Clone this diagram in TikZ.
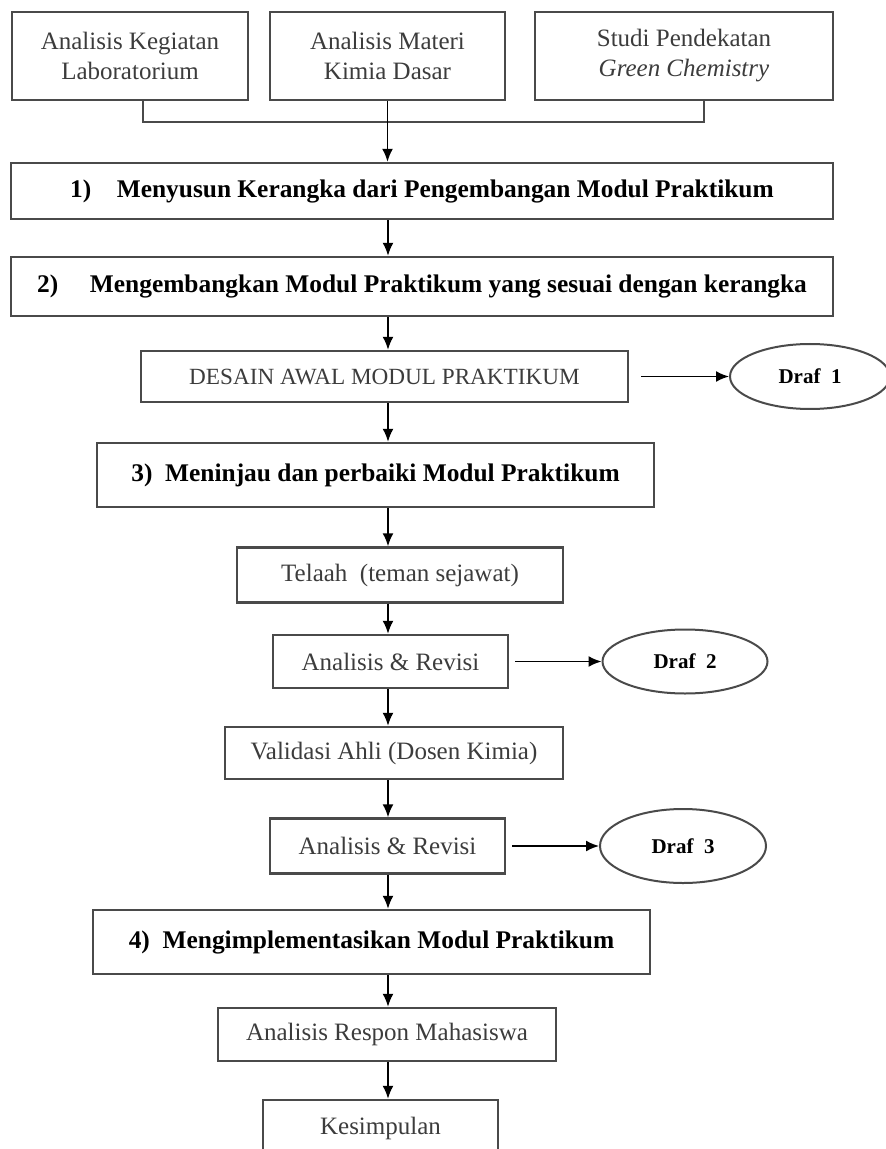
\documentclass[tikz,border=0pt]{standalone}
\usepackage{fontspec}
\setmainfont{Liberation Serif}
\usetikzlibrary{arrows.meta, shapes.geometric}
\definecolor{boxgray}{HTML}{4A4A4A}
\definecolor{txtgray}{HTML}{3C3C3C}
\begin{document}
\begin{tikzpicture}[x = 0.5pt, y = -0.5pt,
    box/.style = {draw = boxgray, line width = 1.2pt, align = center, inner sep = 0pt,
        text = txtgray, font = \fontsize{12.5}{15}\selectfont},
    stepbox/.style = {box, text = black, font = \fontsize{12.7}{15}\selectfont\bfseries},
    drafnode/.style = {draw = boxgray, line width = 1pt, ellipse, inner sep = 0pt,
        text = black, font = \fontsize{10.5}{12}\selectfont\bfseries},
    flow/.style = {draw = black, line width = 0.9pt, -{Latex[length = 6.5pt, width = 5.5pt]}},
    joint/.style = {draw = boxgray, line width = 1pt}]
        \useasboundingbox (0, 0) rectangle (886, 1149);
        % kajian awal
        \node [box, minimum width = 118pt, minimum height = 44pt] (kegiatan) at (130, 56)
            {Analisis Kegiatan\\Laboratorium};
        \node [box, minimum width = 117.5pt, minimum height = 44pt] (materi) at (387.5, 56)
            {Analisis Materi\\Kimia Dasar};
        \node [box, minimum width = 149pt, minimum height = 44pt] (pendekatan) at (684, 56)
            {Studi Pendekatan\\\textit{Green Chemistry}};
        \coordinate (gabungL) at (143, 122);
        \coordinate (gabungR) at (704, 122);
        \coordinate (spine) at (388, 0);
        % langkah pengembangan
        \node [stepbox, minimum width = 411pt, minimum height = 28pt] (langkah1) at (422, 191)
            {1)\quad Menyusun Kerangka dari Pengembangan Modul Praktikum};
        \node [stepbox, minimum width = 411pt, minimum height = 29.5pt] (langkah2) at (422, 286.5)
            {2)\quad\ Mengembangkan Modul Praktikum yang sesuai dengan kerangka};
        \node [box, minimum width = 243.5pt, minimum height = 25.5pt,
            font = \fontsize{11.6}{13}\selectfont] (desain) at (384.5, 376.5)
            {DESAIN AWAL MODUL PRAKTIKUM};
        \node [drafnode, minimum width = 80pt, minimum height = 32.5pt] (draf1) at (810, 376.5)
            {Draf\ \ 1};
        \node [stepbox, minimum width = 278.5pt, minimum height = 32pt] (langkah3) at (375.5, 475)
            {3)\ \ Meninjau dan perbaiki Modul Praktikum};
        \node [box, minimum width = 163pt, minimum height = 27.5pt] (telaah) at (400, 575)
            {Telaah\ \ (teman sejawat)};
        \node [box, minimum width = 117.5pt, minimum height = 26.5pt] (revisi1) at (390.5, 661.5)
            {Analisis \& Revisi};
        \node [drafnode, minimum width = 82.5pt, minimum height = 32pt] (draf2) at (685, 661.5)
            {Draf\ \ 2};
        \node [box, minimum width = 169pt, minimum height = 26pt] (validasi) at (394, 753)
            {Validasi Ahli (Dosen Kimia)};
        \node [box, minimum width = 117.5pt, minimum height = 27.5pt] (revisi2) at (387.5, 846)
            {Analisis \& Revisi};
        \node [drafnode, minimum width = 83pt, minimum height = 37pt] (draf3) at (683, 846)
            {Draf\ \ 3};
        \node [stepbox, minimum width = 278.5pt, minimum height = 32pt] (langkah4) at (371.5, 942)
            {4)\ \ Mengimplementasikan Modul Praktikum};
        \node [box, minimum width = 169pt, minimum height = 26.5pt] (respon) at (387, 1034.5)
            {Analisis Respon Mahasiswa};
        \node [box, minimum width = 117.5pt, minimum height = 28pt] (kesimpulan) at (380.5, 1128)
            {Kesimpulan};
        % penghubung
        \draw [joint] (kegiatan.south -| gabungL) -- (gabungL) -- (gabungR)
            -- (pendekatan.south -| gabungR);
        \draw [flow] (materi.south) -- (materi.south |- langkah1.north);
        \draw [flow] (langkah1.south -| spine) -- (langkah2.north -| spine);
        \draw [flow] (langkah2.south -| spine) -- (desain.north -| spine);
        \draw [flow] (desain.south -| spine) -- (langkah3.north -| spine);
        \draw [flow] (langkah3.south -| spine) -- (telaah.north -| spine);
        \draw [flow] (telaah.south -| spine) -- (revisi1.north -| spine);
        \draw [flow] (revisi1.south -| spine) -- (validasi.north -| spine);
        \draw [flow] (validasi.south -| spine) -- (revisi2.north -| spine);
        \draw [flow] (revisi2.south -| spine) -- (langkah4.north -| spine);
        \draw [flow] (langkah4.south -| spine) -- (respon.north -| spine);
        \draw [flow] (respon.south -| spine) -- (kesimpulan.north -| spine);
        \draw [flow, shorten <= 6pt] (desain.east) -- (draf1.west);
        \draw [flow, shorten <= 3pt] (revisi1.east) -- (draf2.west);
        \draw [flow, shorten <= 3pt] (revisi2.east) -- (draf3.west);
    \end{tikzpicture}
\end{document}
